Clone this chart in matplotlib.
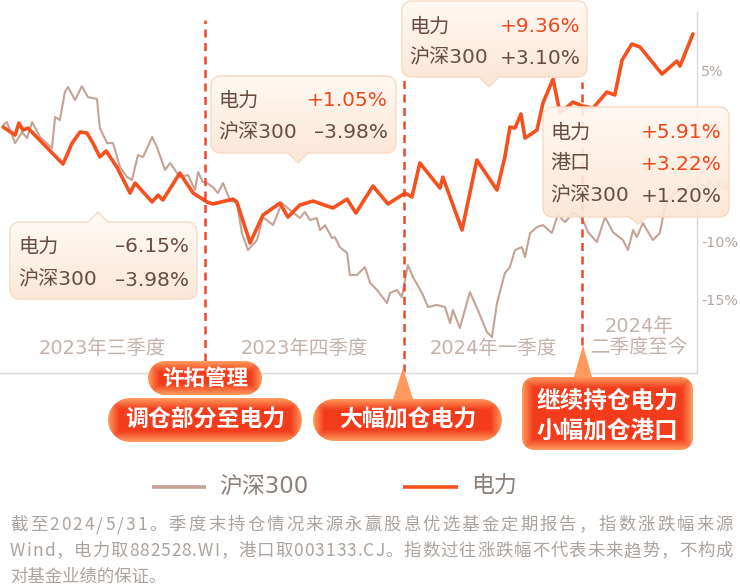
import numpy as np
import matplotlib.pyplot as plt
from matplotlib.patches import Polygon
from matplotlib.colors import to_rgb
from matplotlib.font_manager import FontProperties

plt.rcParams['font.family'] = ['DejaVu Sans', 'Noto Sans CJK SC']

# 交易日序号 / 累计涨跌幅(%)
hs300_t = [1.0, 2.2, 4.8, 7.0, 8.6, 10.2, 12.7, 13.7, 16.5, 17.5,
           19.0, 20.6, 21.6, 23.8, 26.0, 27.9, 30.8, 31.7, 34.0, 35.9,
           38.1, 40.3, 41.9, 43.8, 45.4, 48.3, 49.8, 52.4, 54.0, 57.1,
           59.7, 61.9, 62.9, 64.4, 65.7, 67.6, 69.2, 70.8, 73.0, 75.2,
           76.8, 78.7, 81.6, 83.5, 86.7, 89.5, 92.1, 95.2, 96.8, 98.4,
           100.6, 101.6, 103.2, 105.4, 106.3, 107.9, 110.2, 111.1, 113.3, 115.9,
           117.5, 119.7, 122.9, 123.8, 126.0, 127.6, 129.5, 131.1, 134.0, 135.9,
           138.7, 141.3, 142.9, 143.8, 146.0, 149.2, 151.7, 154.6, 156.2, 157.8,
           160.3, 161.9, 163.5, 165.7, 166.7, 168.3, 170.5, 172.4, 175.2, 177.1,
           179.4, 181.9, 184.8, 186.7, 189.5, 192.1, 194.6, 197.8, 199.4, 201.0,
           202.2, 204.1, 207.3, 209.5, 211.1, 213.7, 216.8, 220.0]
hs300_v = [0.20, 0.46, -1.38, -0.41, -0.94, 0.46, -0.85, -1.11, -1.81, 0.90,
           0.63, 3.08, 3.52, 2.38, 3.60, 2.64, 2.47, -0.07, -1.38, -1.38,
           -3.47, -4.34, -4.61, -2.42, -2.60, -0.85, -1.72, -3.73, -3.12, -4.34,
           -4.17, -5.48, -3.91, -4.78, -4.87, -5.22, -5.74, -4.87, -6.35, -6.62,
           -9.24, -10.72, -9.85, -7.84, -8.54, -6.62, -7.23, -7.93, -7.40, -8.10,
           -7.93, -8.98, -8.54, -9.67, -9.59, -10.46, -10.98, -12.90, -12.90, -12.21,
           -13.60, -14.21, -15.35, -14.48, -14.21, -14.83, -12.03, -13.08, -14.48, -15.70,
           -15.52, -15.70, -17.10, -15.96, -17.53, -14.39, -15.96, -17.88, -18.32, -15.35,
           -12.73, -12.21, -10.72, -10.46, -11.33, -9.24, -8.71, -8.54, -9.24, -7.66,
           -8.28, -7.49, -7.93, -9.15, -10.02, -7.84, -9.15, -9.85, -10.72, -8.98,
           -9.59, -8.36, -9.85, -9.24, -6.97, -5.74, -5.48, -4.96]

power_t = [1.0, 4.8, 6.0, 7.3, 8.9, 20.0, 22.9, 25.4, 27.6, 29.5, 31.7, 33.7, 37.1,
           41.3, 42.9, 48.3, 50.2, 51.7, 57.1, 61.3, 65.7, 67.6, 74.0,
           75.2, 79.4, 83.5, 88.9, 91.4, 95.2, 99.4, 105.7, 110.2, 113.0,
           118.4, 123.2, 128.6, 130.8, 133.3, 139.7, 140.6, 146.7, 151.4, 157.8,
           160.3, 161.9, 163.5, 165.4, 166.7, 170.5, 172.4, 175.6, 177.8, 181.9,
           185.1, 188.3, 192.7, 195.2, 197.5, 200.6, 203.2, 210.2, 214.9, 215.9,
           220.0]
power_v = [0.02, -0.68, 0.37, -0.24, -0.07, -3.21, -1.38, -0.41, -0.50, -1.38, -2.59, -2.07, -3.47,
           -5.74, -4.87, -6.52, -5.92, -6.35, -4.00, -5.74, -6.52, -6.70, -6.27,
           -6.52, -10.10, -7.66, -6.62, -7.84, -6.79, -6.44, -7.05, -6.27, -7.49,
           -5.13, -6.70, -5.74, -6.09, -3.12, -5.31, -4.35, -8.97, -2.86, -5.48,
           -2.59, 0.02, -0.07, 1.16, -0.94, -0.24, 2.12, 4.21, 1.24, 2.20,
           1.85, 1.68, 3.08, 2.82, 5.87, 7.27, 7.01, 4.65, 5.78, 5.35,
           8.15]

quarter_start = [0, 65.1, 128.3, 184.8]
quarter_end = 221.3
quarter_labels = ['2023年三季度', '2023年四季度', '2024年一季度', '2024年\n二季度至今']

y_ticks = [5, 0, -5, -10, -15]
y_tick_labels = ['5%', '0%', '-5%', '-10%', '-15%']

box_rows = [
    [('电力', '–6.15%'), ('沪深300', '–3.98%')],
    [('电力', '+1.05%'), ('沪深300', '–3.98%')],
    [('电力', '+9.36%'), ('沪深300', '+3.10%')],
    [('电力', '+5.91%'), ('港口', '+3.22%'), ('沪深300', '+1.20%')],
]

RED = '#f5501e'
BROWN = '#c4a396'
TXT = '#6a4b42'

fig = plt.figure(figsize=(7.4, 5.86), dpi=100)

ax = fig.add_axes([0, 1 - 373 / 586, 697 / 740, 361 / 586])
ax.set_xlim(0, quarter_end)
ax.set_ylim(-21.46, 10.07)
ax.patch.set_alpha(0)
ax.plot(hs300_t, hs300_v, color=BROWN, lw=1.5, zorder=2)
ax.plot(power_t, power_v, color=RED, lw=2.6, zorder=3,
        solid_joinstyle='round', solid_capstyle='round')
for s in ['top', 'left']:
    ax.spines[s].set_visible(False)
for s in ['right', 'bottom']:
    ax.spines[s].set_color('#dcd7d3')
    ax.spines[s].set_linewidth(1)
ax.set_xticks([])
ax.yaxis.tick_right()
ax.set_yticks(y_ticks)
ax.set_yticklabels(y_tick_labels)
ax.tick_params(axis='y', length=0, pad=3, labelsize=10.3, labelcolor='#b0a7a1')

# 季度分隔虚线
dash_ext = [(0.033, 0.978), (0.003, 0.820), (0.078, 0.806)]
for qx, (f0, f1) in zip(quarter_start[1:], dash_ext):
    ax.axvline(qx, ymin=f0, ymax=f1, color='#f0472a', lw=1.8,
               ls=(0, (3.2, 2.2)), clip_on=False, zorder=4)

# 季度标签
bounds = quarter_start + [quarter_end]
for i, lab in enumerate(quarter_labels):
    mid = (bounds[i] + bounds[i + 1]) / 2
    yy = 0.0997 if '\n' in lab else 0.069
    ax.text(mid, yy, lab, transform=ax.get_xaxis_transform(), ha='center',
            va='center', fontsize=14, color='#c5b3aa', linespacing=1.1, zorder=5)

# 覆盖层 (像素坐标)
ov = fig.add_axes([0, 0, 1, 1], zorder=5)
ov.set_xlim(0, 740)
ov.set_ylim(586, 0)
ov.axis('off')
ov.patch.set_alpha(0)
ov.set_autoscale_on(False)


def shape(x0, y0, x1, y1, r, ptr=None):
    th = np.linspace(0, np.pi / 2, 10)
    pts = [(x0 + r, y0)]
    if ptr and ptr[0] == 'top':
        _, px, ph, pw = ptr
        pts += [(px - pw, y0), (px, y0 - ph), (px + pw, y0)]
    cx, cy = x1 - r, y0 + r
    pts += [(cx + r * np.sin(a), cy - r * np.cos(a)) for a in th]
    cx, cy = x1 - r, y1 - r
    pts += [(cx + r * np.cos(a), cy + r * np.sin(a)) for a in th]
    if ptr and ptr[0] == 'bottom':
        _, px, ph, pw = ptr
        pts += [(px + pw, y1), (px, y1 + ph), (px - pw, y1)]
    cx, cy = x0 + r, y1 - r
    pts += [(cx - r * np.sin(a), cy + r * np.cos(a)) for a in th]
    cx, cy = x0 + r, y0 + r
    pts += [(cx - r * np.cos(a), cy - r * np.sin(a)) for a in th]
    return pts


def grad_fill(pts, rect, c_in, c_out, mode, z, alpha=1.0):
    poly = Polygon(pts, closed=True, fc='none', ec='none')
    ov.add_patch(poly)
    xs = [p[0] for p in pts]
    ys = [p[1] for p in pts]
    bx0, bx1, by0, by1 = min(xs), max(xs), min(ys), max(ys)
    W, H = int(bx1 - bx0) + 2, int(by1 - by0) + 2
    X, Y = np.meshgrid(np.linspace(bx0, bx1, W), np.linspace(by0, by1, H))
    rx0, ry0, rx1, ry1 = rect
    if mode == 'edge':
        d = np.minimum(np.minimum(X - rx0, rx1 - X), np.minimum(Y - ry0, ry1 - Y))
        t = np.clip(d / 11.0, 0, 1)
    else:
        t = np.clip((Y - ry0) / (ry1 - ry0), 0, 1)
    t = t[..., None]
    img = np.array(to_rgb(c_out)) * (1 - t) + np.array(to_rgb(c_in)) * t
    im = ov.imshow(img, extent=(bx0, bx1, by1, by0), origin='upper',
                   aspect='auto', zorder=z, interpolation='bilinear', alpha=alpha)
    im.set_clip_path(poly)
    return poly


# 提示框
boxes = [
    dict(rect=(10, 222, 197, 299), ptr=('top', 98, 10, 10), lx=18, vx=189, ys=[247, 280]),
    dict(rect=(211, 76, 396, 153), ptr=('bottom', 298, 10, 10), lx=218, vx=388, ys=[101, 133]),
    dict(rect=(402, 1, 587, 77), ptr=('bottom', 489, 10, 10), lx=409, vx=581, ys=[27, 58]),
    dict(rect=(543, 107, 729, 217), ptr=('bottom', 638, 7, 9), lx=550, vx=722, ys=[133, 164, 196]),
]
for b, rows in zip(boxes, box_rows):
    x0, y0, x1, y1 = b['rect']
    pts = shape(x0, y0, x1, y1, 9, b['ptr'])
    grad_fill(pts, b['rect'], '#fce6d3', '#fff8f2', 'vert', 6, alpha=0.9)
    ov.add_patch(Polygon(pts, closed=True, fc='none', ec='#f6dbc5', lw=1, zorder=7))
    for (lab, val), yy in zip(rows, b['ys']):
        ov.text(b['lx'], yy, lab, fontsize=14.5, color=TXT, va='center', ha='left', zorder=8)
        vc = '#f2461c' if (val.startswith('+') and lab != '沪深300') else TXT
        ov.text(b['vx'], yy, val, fontsize=14.5, color=vc, va='center', ha='right', zorder=8)

# 调仓标签
badges = [
    dict(rect=(148, 361, 262, 395), r=17, ptr=None, lines=['许拓管理'], ys=[378], fs=15.5),
    dict(rect=(108, 398, 302, 442), r=22, ptr=None, lines=['调仓部分至电力'], ys=[420], fs=16.5),
    dict(rect=(313, 399, 502, 441), r=21, ptr=('top', 403, 31, 10), lines=['大幅加仓电力'], ys=[420], fs=16.5),
    dict(rect=(522, 377, 693, 450), r=12, ptr=('top', 583, 32, 9), lines=['继续持仓电力', '小幅加仓港口'],
         ys=[401, 431], fs=17),
]
for b in badges:
    x0, y0, x1, y1 = b['rect']
    pts = shape(x0, y0, x1, y1, b['r'], b['ptr'])
    grad_fill(pts, b['rect'], '#f33c1c', '#ff9a5c', 'edge', 9)
    cx = (x0 + x1) / 2
    for line, yy in zip(b['lines'], b['ys']):
        ov.text(cx, yy, line, fontsize=b['fs'], color='white', fontweight='bold',
                ha='center', va='center', zorder=10)

# 图例
ov.plot([152, 206], [487, 487], color=BROWN, lw=2.6, solid_capstyle='butt')
ov.text(219, 486, '沪深300', fontsize=16.5, color='#8c817b', va='center', ha='left')
ov.plot([403, 458], [487, 487], color=RED, lw=2.6, solid_capstyle='butt')
ov.text(471, 486, '电力', fontsize=16.5, color='#8c817b', va='center', ha='left')

# 脚注 (两端对齐)
notes = ['截至2024/5/31。季度末持仓情况来源永赢股息优选基金定期报告，指数涨跌幅来源',
         'Wind，电力取882528.WI，港口取003133.CJ。指数过往涨跌幅不代表未来趋势，不构成',
         '对基金业绩的保证。']
fp = FontProperties(family=['Noto Sans CJK SC', 'DejaVu Sans'], size=12.5)
renderer = fig.canvas.get_renderer()
for i, (s, yy) in enumerate(zip(notes, [525, 551, 577])):
    if i < 2:
        ws = [renderer.get_text_width_height_descent(c, fp, ismath=False)[0] for c in s]
        gap = (733 - 10 - sum(ws)) / (len(s) - 1)
        x = 10
        for c, w in zip(s, ws):
            ov.text(x, yy, c, fontproperties=fp, color='#aba39d', va='center', ha='left')
            x += w + gap
    else:
        ov.text(10, yy, s, fontproperties=fp, color='#aba39d', va='center', ha='left')

fig.savefig('out.png', dpi=100)
